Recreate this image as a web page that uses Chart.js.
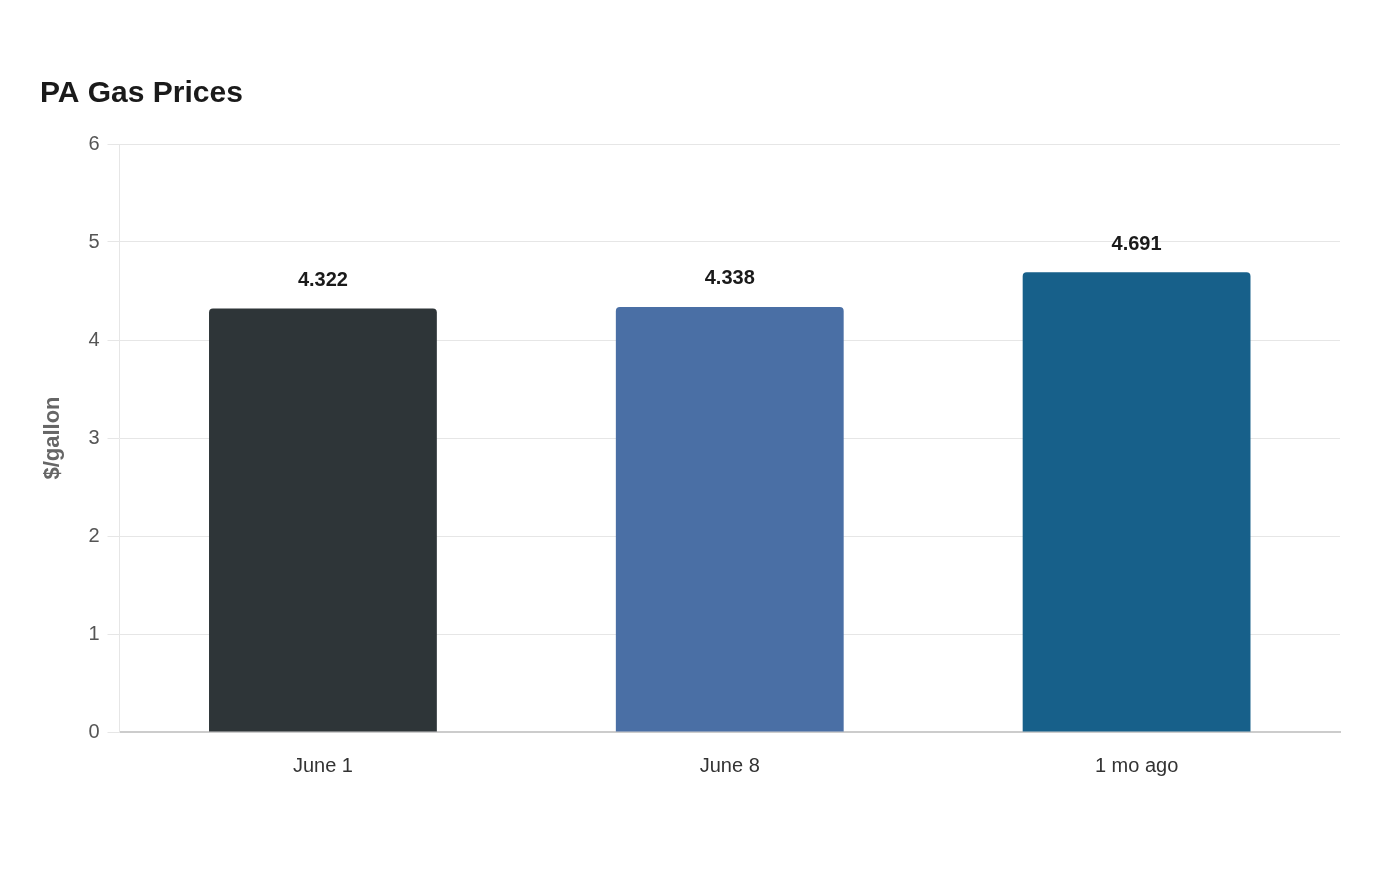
<!DOCTYPE html>
<html><head><meta charset="utf-8">
<script src="https://cdn.jsdelivr.net/npm/chart.js@4"></script>
<style>html,body{margin:0;background:#fff}#w{width:1400px;height:880px}</style>
</head><body><div id="w"><canvas id="c"></canvas></div>
<script>
const categories = ["June 1", "June 8", "1 mo ago"];
const prices = [4.322, 4.338, 4.691];
const priceLabels = ["4.322", "4.338", "4.691"];
const barColors = ["#2e3538", "#4a6fa5", "#17608a"];
const yTicks = [0, 1, 2, 3, 4, 5, 6];

const valueLabels = {
  id: 'valueLabels',
  afterDatasetsDraw(chart) {
    const ctx = chart.ctx;
    const meta = chart.getDatasetMeta(0);
    ctx.save();
    ctx.font = 'bold 20px "Liberation Sans", Arial, sans-serif';
    ctx.fillStyle = '#1a1a1a';
    ctx.textAlign = 'center';
    ctx.textBaseline = 'bottom';
    meta.data.forEach((bar, i) => ctx.fillText(priceLabels[i], bar.x, bar.y - 18));
    ctx.restore();
  }
};

new Chart(document.getElementById('c'), {
  type: 'bar',
  data: { labels: categories, datasets: [{ data: prices, backgroundColor: barColors,
    barPercentage: 0.56, categoryPercentage: 1, borderRadius: {topLeft: 4, topRight: 4}, borderSkipped: 'bottom' }] },
  options: {
    responsive: true, maintainAspectRatio: false, animation: false,
    layout: { padding: { left: 40, right: 60, top: 76, bottom: 88 } },
    plugins: {
      legend: { display: false }, tooltip: { enabled: false },
      title: { display: true, text: 'PA Gas Prices', align: 'start', color: '#1a1a1a',
        font: { family: '"Liberation Sans", Arial, sans-serif', size: 30, weight: 'bold' },
        padding: { top: 0, bottom: 32 } }
    },
    scales: {
      x: { grid: { display: false }, border: { color: '#cccccc', width: 2 },
        ticks: { color: '#333', padding: 14, font: { family: '"Liberation Sans", Arial, sans-serif', size: 20 } } },
      y: { min: 0, max: 6, afterBuildTicks: a => { a.ticks = yTicks.map(v => ({ value: v })); },
        grid: { color: '#e6e6e6', drawTicks: true, tickLength: 12, tickColor: '#e6e6e6' },
        border: { color: '#e6e6e6' },
        ticks: { color: '#555', padding: 8, font: { family: '"Liberation Sans", Arial, sans-serif', size: 20 } },
        title: { display: true, text: '$/gallon', color: '#666', padding: { top: 0, bottom: 14 },
          font: { family: '"Liberation Sans", Arial, sans-serif', size: 22, weight: 'bold' } } }
    }
  },
  plugins: [valueLabels]
});
</script></body></html>
